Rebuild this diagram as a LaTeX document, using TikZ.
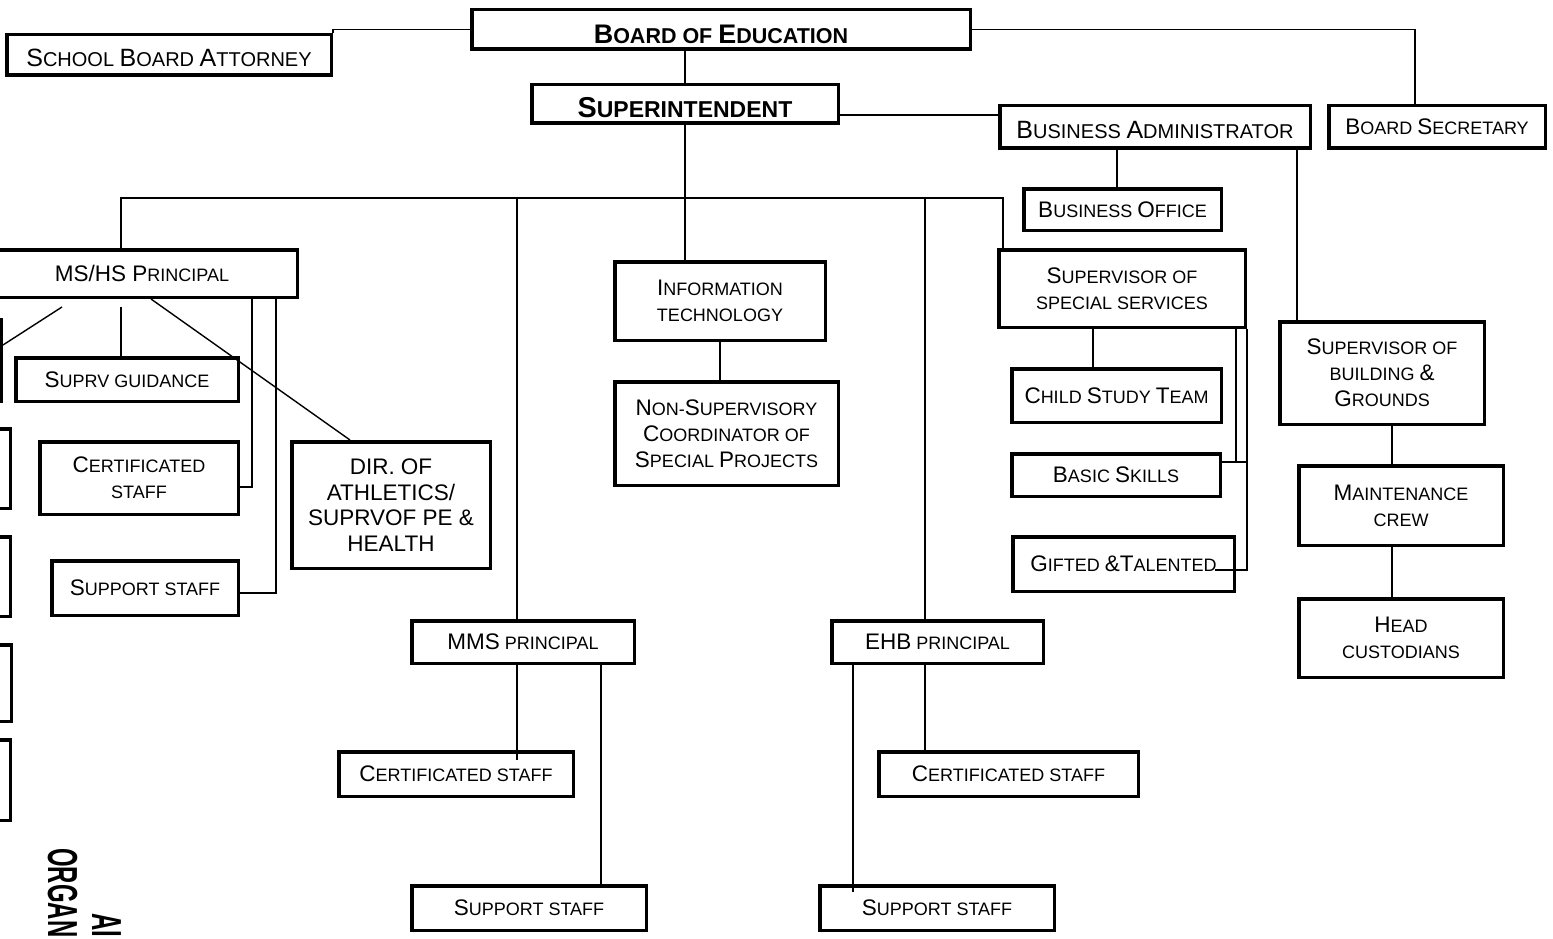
\documentclass[tikz,border=0pt]{standalone}
\usepackage{fontspec}
\setmainfont{Liberation Sans}
\usepackage{graphicx}
\usetikzlibrary{calc}
\newcommand\bc[1]{\scalebox{1.25}{#1}}
\newcommand\lowr[2]{\raisebox{-#1}[\height][\depth]{#2}}
\tikzset{
  box/.style={draw, line width=3.5pt, fill=white, inner sep=0pt, align=center, font=\fontsize{18}{26}\selectfont},
  conn/.style={line width=1.4pt},
  ttl/.style={rotate=-90, anchor=base west, inner sep=0pt, font=\fontsize{42}{42}\selectfont\bfseries}
}
\begin{document}
\begin{tikzpicture}[x=1pt,y=-1pt]
\path[clip] (0,0) rectangle (1553,939);
\fill[white] (0,0) rectangle (1553,939);

% boxes
\node[box, minimum width=324.5pt, minimum height=40.5pt, font=\fontsize{20}{26}\selectfont] (att) at (169,55) {\lowr{3pt}{\bc{S}CHOOL \bc{B}OARD \bc{A}TTORNEY}};
\node[box, minimum width=498.5pt, minimum height=39.5pt, font=\fontsize{21.5}{26}\selectfont\bfseries] (boe) at (721,29.5) {\lowr{5pt}{\bc{B}OARD OF \bc{E}DUCATION}};
\node[box, minimum width=306.5pt, minimum height=38.5pt, font=\fontsize{23}{26}\selectfont\bfseries] (supt) at (685,104) {\lowr{4pt}{\bc{S}UPERINTENDENT}};
\node[box, minimum width=310.5pt, minimum height=42.5pt, font=\fontsize{20}{26}\selectfont] (ba) at (1155,127) {\lowr{3pt}{\bc{B}USINESS \bc{A}DMINISTRATOR}};
\node[box, minimum width=216.5pt, minimum height=42.5pt] (bsec) at (1437,127) {\bc{B}OARD \bc{S}ECRETARY};
\node[box, minimum width=197.5pt, minimum height=41.5pt] (bo) at (1122.5,209.5) {\bc{B}USINESS \bc{O}FFICE};
\node[box, minimum width=310.5pt, minimum height=47.5pt] (mshs) at (142,273.5) {\bc{MS/HS P}RINCIPAL};
\node[box, minimum width=210.5pt, minimum height=78.5pt] (it) at (720,301) {\bc{I}NFORMATION\\TECHNOLOGY};
\node[box, minimum width=246.5pt, minimum height=77.5pt] (sss) at (1122,288.5) {\bc{S}UPERVISOR OF\\SPECIAL SERVICES};
\node[box, minimum width=222.5pt, minimum height=43.5pt] (sg) at (127,379.5) {\bc{S}UPRV GUIDANCE};
\node[box, minimum width=204.5pt, minimum height=102.5pt] (sbg) at (1382,373) {\bc{S}UPERVISOR OF\\BUILDING \bc{\&}\\\bc{G}ROUNDS};
\node[box, minimum width=209.5pt, minimum height=53.5pt] (cst) at (1116.5,395.5) {\bc{C}HILD \bc{S}TUDY \bc{T}EAM};
\node[box, minimum width=223.5pt, minimum height=103.5pt] (nsc) at (726.5,433.5) {\bc{N}ON-\bc{S}UPERVISORY\\\bc{C}OORDINATOR OF\\\bc{S}PECIAL \bc{P}ROJECTS};
\node[box, minimum width=198.5pt, minimum height=72.5pt] (cert1) at (139,478) {\bc{C}ERTIFICATED\\STAFF};
\node[box, minimum width=198.5pt, minimum height=126.5pt, font=\fontsize{22.5}{25.7}\selectfont] (dir) at (391,505) {DIR. OF\\ATHLETICS/\\SUPRVOF PE \&\\HEALTH};
\node[box, minimum width=208.5pt, minimum height=42.5pt] (bsk) at (1116,475) {\bc{B}ASIC \bc{S}KILLS};
\node[box, minimum width=204.5pt, minimum height=79.5pt] (mc) at (1401,505.5) {\bc{M}AINTENANCE\\CREW};
\node[box, minimum width=221.5pt, minimum height=54.5pt] (gt) at (1123.5,564) {\bc{G}IFTED \bc{\&T}ALENTED};
\node[box, minimum width=186.5pt, minimum height=54.5pt] (sup1) at (145,588) {\bc{S}UPPORT STAFF};
\node[box, minimum width=222.5pt, minimum height=42.5pt] (mms) at (523,642) {\bc{MMS} PRINCIPAL};
\node[box, minimum width=211.5pt, minimum height=42.5pt] (ehb) at (937.5,642) {\bc{EHB} PRINCIPAL};
\node[box, minimum width=204.5pt, minimum height=78.5pt] (hc) at (1401,638) {\bc{H}EAD\\CUSTODIANS};
\node[box, minimum width=234.5pt, minimum height=44.5pt] (certm) at (456,774) {\bc{C}ERTIFICATED STAFF};
\node[box, minimum width=259.5pt, minimum height=44.5pt] (certe) at (1008.5,774) {\bc{C}ERTIFICATED STAFF};
\node[box, minimum width=234.5pt, minimum height=44.5pt] (supm) at (529,908) {\bc{S}UPPORT STAFF};
\node[box, minimum width=234.5pt, minimum height=44.5pt] (supe) at (937,908) {\bc{S}UPPORT STAFF};
% partial boxes at the left edge
\node[box, minimum width=99.5pt, minimum height=81.5pt] (p1) at (-48.5,360.5) {};
\node[box, minimum width=108.5pt, minimum height=79.5pt] (p2) at (-44,468.5) {};
\node[box, minimum width=108.5pt, minimum height=79.5pt] (p3) at (-44,576.5) {};
\node[box, minimum width=109.5pt, minimum height=76.5pt] (p4) at (-43.5,683) {};
\node[box, minimum width=108.5pt, minimum height=80.5pt] (p5) at (-44,780) {};

% title (rotated, cut by the page edge)
\node[ttl] (t1) at (48,848) {\scalebox{0.57}[1]{ORGAN}};
\node[ttl] (t2) at (92,913) {\scalebox{0.57}[1]{AI}};

% guide coordinates
\coordinate (hbus) at (0,198);
\coordinate (h115) at (0,115);
\coordinate (h345) at (0,345);
\coordinate (h462) at (0,462);
\coordinate (h487) at (0,487);
\coordinate (h593) at (0,593);
\coordinate (v62) at (62,0);
\coordinate (v121) at (121,0);
\coordinate (v151) at (151,0);
\coordinate (v252) at (252,0);
\coordinate (v276) at (276,0);
\coordinate (v350) at (350,0);
\coordinate (v517) at (517,0);
\coordinate (v601) at (601,0);
\coordinate (v853) at (853,0);
\coordinate (v925) at (925,0);
\coordinate (v1003) at (1003,0);
\coordinate (v1093) at (1093,0);
\coordinate (v1117) at (1117,0);
\coordinate (v1236) at (1236,0);
\coordinate (v1297) at (1297,0);
\coordinate (v1392) at (1392,0);
\coordinate (v1415) at (1415,0);
\coordinate (gtend) at (1215,570);

% connectors
\draw[conn] (boe.west) -| (att.north east);
\draw[conn] (boe.east) -| (bsec.north -| v1415);
\draw[conn] (supt.north) -- (supt.north |- boe.south);
\draw[conn] (supt.east |- h115) -- (ba.west |- h115);
\draw[conn] (supt.south) -- (it.north -| supt.south);
\draw[conn] (mshs.north -| v121) -- (hbus -| v121) -- (hbus -| v1003) -- (sss.north -| v1003);
\draw[conn] (hbus -| v517) -- (mms.north -| v517);
\draw[conn] (hbus -| v925) -- (ehb.north -| v925);
\draw[conn] (ba.south -| v1117) -- (bo.north -| v1117);
\draw[conn] (ba.south -| v1297) -- (sbg.north -| v1297);
\draw[conn] (sbg.south -| v1392) -- (mc.north -| v1392);
\draw[conn] (mc.south -| v1392) -- (hc.north -| v1392);
\draw[conn] (it.south) -- (nsc.north -| it.south);
\draw[conn] (sss.south -| v1093) -- (cst.north -| v1093);
\draw[conn] (sss.south -| v1236) -- (h462 -| v1236);
\draw[conn] (bsk.east |- h462) -- (h462 -| sss.south east);
\draw[conn] (sss.south east) |- (gtend);
\draw[conn] ($(mshs.south -| v62)+(0,8)$) -- (p1.east |- h345);
\draw[conn] ($(mshs.south -| v121)+(0,8)$) -- (sg.north -| v121);
\draw[conn] (mshs.south -| v151) -- (dir.north -| v350);
\draw[conn] (mshs.south -| v252) |- (cert1.east |- h487);
\draw[conn] (mshs.south -| v276) |- (sup1.east |- h593);
\draw[conn] (mms.south -| v517) -- ($(certm.north -| v517)+(0,10)$);
\draw[conn] (mms.south -| v601) -- (supm.north -| v601);
\draw[conn] (ehb.south -| v925) -- (certe.north -| v925);
\draw[conn] (ehb.south -| v853) -- ($(supe.north -| v853)+(0,8)$);
\end{tikzpicture}
\end{document}
